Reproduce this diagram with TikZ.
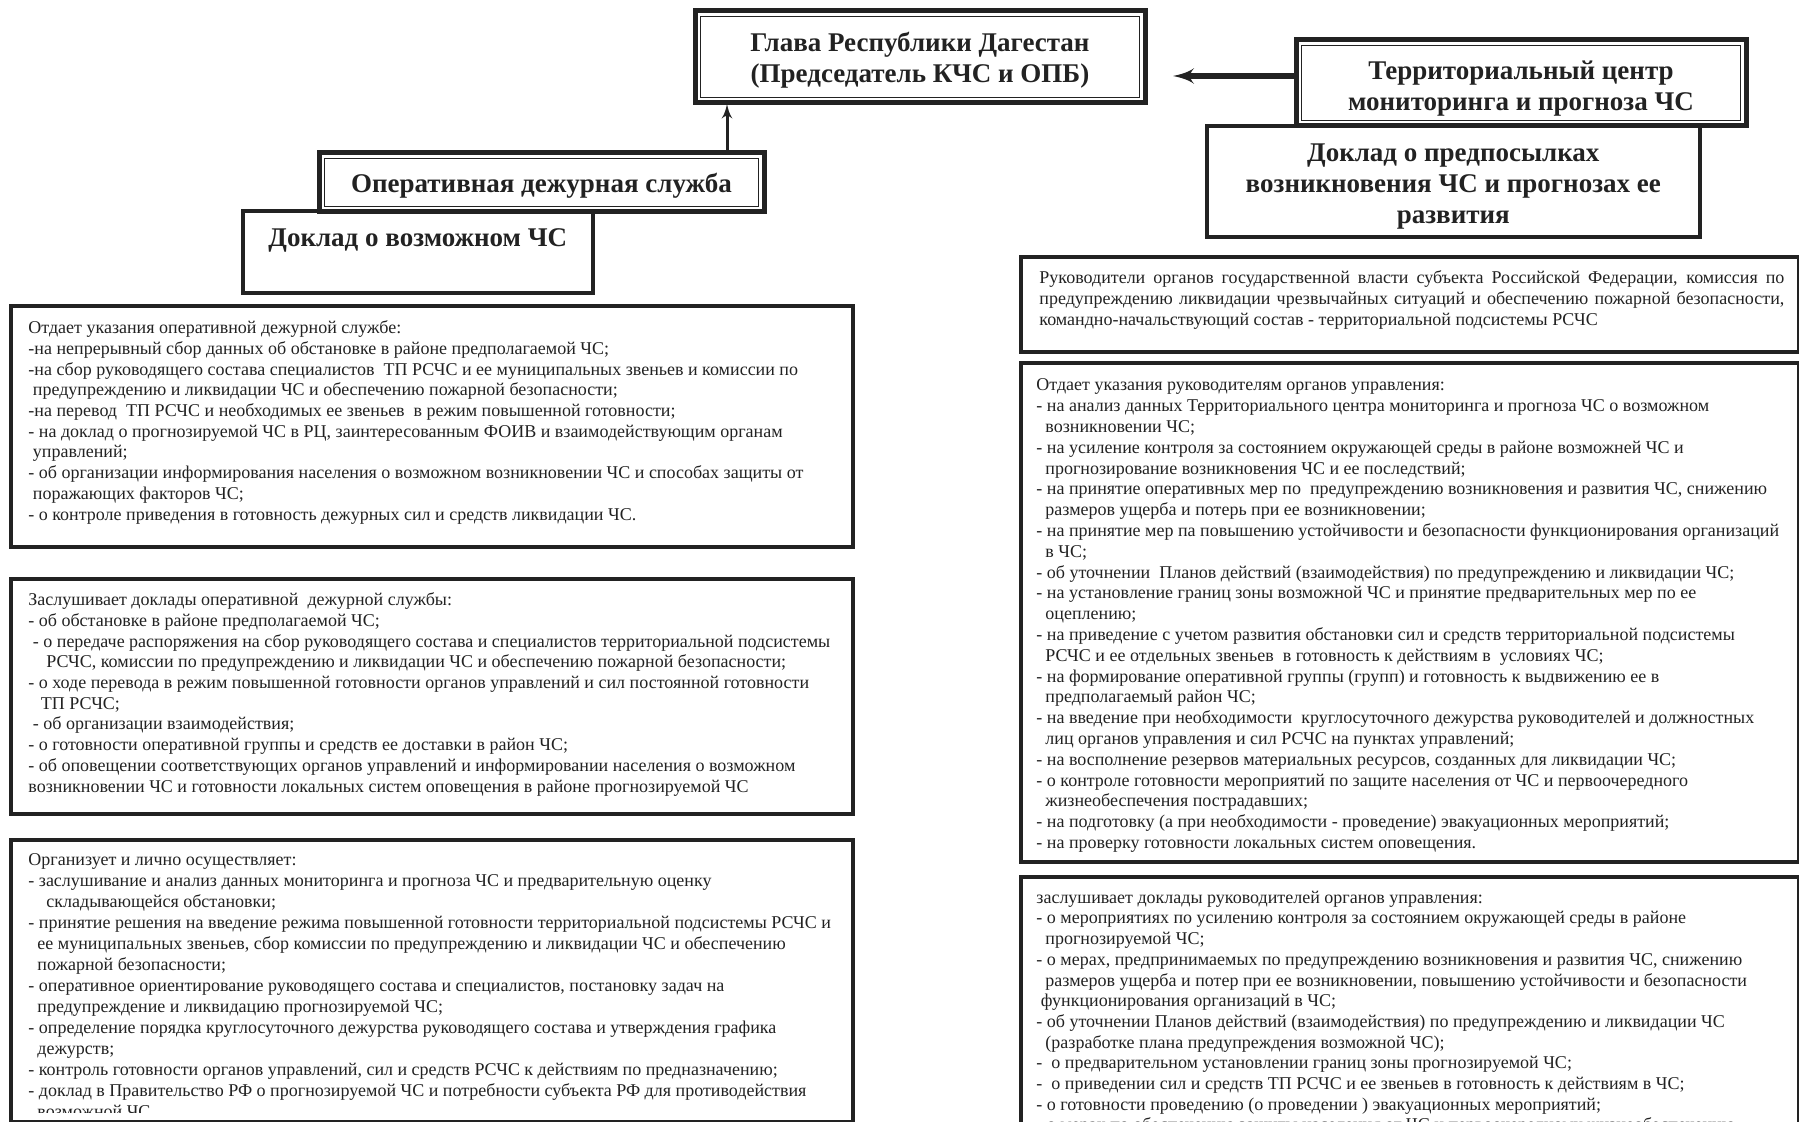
\documentclass[tikz,border=0pt]{standalone}
\usepackage{fontspec}
\setmainfont{Liberation Serif}
\usepackage{xcolor}
\usepackage{tikz}
\usetikzlibrary {positioning}
\usetikzlibrary{arrows}
\definecolor{ink}{HTML}{222222}
\tikzset{edge/.style = {->,> = latex',draw=ink}}
\newcommand{\ind}{\hspace*{0.5em}}

\begin{document}
\begin{tikzpicture}[x=0.5pt,y=-0.5pt,
    frame/.style={draw=ink,line width=1.8pt,fill=white,anchor=north west,inner sep=0},
    main node/.style={draw=ink,line width=2.5pt,fill=white,inner sep=0},
    inner line/.style={draw=ink,line width=0.6pt},
    title/.style={inner sep=0,align=center,text=ink,font=\bfseries\fontsize{13.5}{15.5}\selectfont},
    body/.style={anchor=north west,inner sep=0,align=left,text=ink,font=\fontsize{9}{10.35}\selectfont}]
\useasboundingbox (0,0) rectangle (1799,1122);
\clip (0,0) rectangle (1799,1122);
\fill[white] (0,0) rectangle (1799,1122);

% top row
\node[frame,minimum width=175pt,minimum height=41pt] (5) at (241,209) {};
\node[title,below=9.5pt of 5.north] (5t) {Доклад о возможном ЧС};
\node[main node,minimum width=222.5pt,minimum height=29.5pt] (4) at (541.5,182.5) {};
\draw[inner line] ([shift={(4pt,-4pt)}]4.north west) rectangle ([shift={(-4pt,4pt)}]4.south east);
\node[title] (4t) at ([yshift=-1.8pt]4.center) {Оперативная дежурная служба};

\node[main node,minimum width=225pt,minimum height=46pt] (1) at (920,57) {};
\draw[inner line] ([shift={(4pt,-4pt)}]1.north west) rectangle ([shift={(-4pt,4pt)}]1.south east);
\node[title] (1t) at ([yshift=-1.8pt]1.center) {Глава Республики Дагестан\\(Председатель КЧС и ОПБ)};

\node[frame,minimum width=246.5pt,minimum height=55.5pt] (3) at (1205,124) {};
\node[title,below=9.5pt of 3.north] (3t) {Доклад о предпосылках\\возникновения ЧС и прогнозах ее\\развития};
\node[main node,minimum width=225pt,minimum height=43pt] (2) at (1521,83) {};
\draw[inner line] ([shift={(4pt,-4pt)}]2.north west) rectangle ([shift={(-4pt,4pt)}]2.south east);
\node[title] (2t) at ([yshift=-3pt]2.center) {Территориальный центр\\мониторинга и прогноза ЧС};

\coordinate (tip) at (1173,76);
\coordinate (up) at (727,104);
\draw[edge,line width=2.6pt] (2.west |- tip) -- (tip);
\draw[edge,line width=1.5pt] (4.north -| up) -- (up);

% left column
\node[frame,minimum width=421pt,minimum height=120.5pt] (6) at (9,304) {};
\node[body] (6t) at (28,320.5) {Отдает указания оперативной дежурной службе:\\
-на непрерывный сбор данных об обстановке в районе предполагаемой ЧС;\\
-на сбор руководящего состава специалистов\ \ ТП РСЧС и ее муниципальных звеньев и комиссии по\\
\hspace*{0.25em}предупреждению и ликвидации ЧС и обеспечению пожарной безопасности;\\
-на перевод\ \ ТП РСЧС и необходимых ее звеньев\ \ в режим повышенной готовности;\\
- на доклад о прогнозируемой ЧС в РЦ, заинтересованным ФОИВ и взаимодействующим органам\\
\hspace*{0.25em}управлений;\\
- об организации информирования населения о возможном возникновении ЧС и способах защиты от\\
\hspace*{0.25em}поражающих факторов ЧС;\\
- о контроле приведения в готовность дежурных сил и средств ликвидации ЧС.};

\node[frame,minimum width=421pt,minimum height=117.5pt] (7) at (9,577) {};
\node[body] (7t) at (28,592.5) {Заслушивает доклады оперативной\ \ дежурной службы:\\
- об обстановке в районе предполагаемой ЧС;\\
\hspace*{0.25em}- о передаче распоряжения на сбор руководящего состава и специалистов территориальной подсистемы\\
\hspace*{1em}РСЧС, комиссии по предупреждению и ликвидации ЧС и обеспечению пожарной безопасности;\\
- о ходе перевода в режим повышенной готовности органов управлений и сил постоянной готовности\\
\hspace*{0.7em}ТП РСЧС;\\
\hspace*{0.25em}- об организации взаимодействия;\\
- о готовности оперативной группы и средств ее доставки в район ЧС;\\
- об оповещении соответствующих органов управлений и информировании населения о возможном\\
возникновении ЧС и готовности локальных систем оповещения в районе прогнозируемой ЧС};

\node[frame,minimum width=421pt,minimum height=141pt] (8) at (9,838) {};
\begin{scope}
\clip (12,841) rectangle (848,1112);
\node[body,font=\fontsize{9}{10.5}\selectfont] (8t) at (28,853) {Организует и лично осуществляет:\\
- заслушивание и анализ данных мониторинга и прогноза ЧС и предварительную оценку\\
\hspace*{1em}складывающейся обстановки;\\
- принятие решения на введение режима повышенной готовности территориальной подсистемы РСЧС и\\
\ind ее муниципальных звеньев, сбор комиссии по предупреждению и ликвидации ЧС и обеспечению\\
\ind пожарной безопасности;\\
- оперативное ориентирование руководящего состава и специалистов, постановку задач на\\
\ind предупреждение и ликвидацию прогнозируемой ЧС;\\
- определение порядка круглосуточного дежурства руководящего состава и утверждения графика\\
\ind дежурств;\\
- контроль готовности органов управлений, сил и средств РСЧС к действиям по предназначению;\\
- доклад в Правительство РФ о прогнозируемой ЧС и потребности субъекта РФ для противодействия\\
\ind возможной ЧС};
\end{scope}

% right column
\node[frame,minimum width=389pt,minimum height=47.5pt] (9) at (1019,255) {};
\node[body,text width=372.5pt,align=justify] (9t) at (1039,270.5) {Руководители органов государственной власти субъекта Российской Федерации, комиссия по\linebreak
предупреждению ликвидации чрезвычайных ситуаций и обеспечению пожарной безопасности,\linebreak
командно-начальствующий состав - территориальной подсистемы РСЧС};

\node[frame,minimum width=389pt,minimum height=249.5pt] (10) at (1019,361) {};
\node[body,font=\fontsize{9}{10.4}\selectfont] (10t) at (1036,378.5) {Отдает указания руководителям органов управления:\\
- на анализ данных Территориального центра мониторинга и прогноза ЧС о возможном\\
\ind возникновении ЧС;\\
- на усиление контроля за состоянием окружающей среды в районе возможней ЧС и\\
\ind прогнозирование возникновения ЧС и ее последствий;\\
- на принятие оперативных мер по\ \ предупреждению возникновения и развития ЧС, снижению\\
\ind размеров ущерба и потерь при ее возникновении;\\
- на принятие мер па повышению устойчивости и безопасности функционирования организаций\\
\ind в ЧС;\\
- об уточнении\ \ Планов действий (взаимодействия) по предупреждению и ликвидации ЧС;\\
- на установление границ зоны возможной ЧС и принятие предварительных мер по ее\\
\ind оцеплению;\\
- на приведение с учетом развития обстановки сил и средств территориальной подсистемы\\
\ind РСЧС и ее отдельных звеньев\ \ в готовность к действиям в\ \ условиях ЧС;\\
- на формирование оперативной группы (групп) и готовность к выдвижению ее в\\
\ind предполагаемый район ЧС;\\
- на введение при необходимости\ \ круглосуточного дежурства руководителей и должностных\\
\ind лиц органов управления и сил РСЧС на пунктах управлений;\\
- на восполнение резервов материальных ресурсов, созданных для ликвидации ЧС;\\
- о контроле готовности мероприятий по защите населения от ЧС и первоочередного\\
\ind жизнеобеспечения пострадавших;\\
- на подготовку (а при необходимости - проведение) эвакуационных мероприятий;\\
- на проверку готовности локальных систем оповещения.};

\node[frame,minimum width=389pt,minimum height=140pt] (11) at (1019,875) {};
\node[body] (11t) at (1036,890.5) {заслушивает доклады руководителей органов управления:\\
- о мероприятиях по усилению контроля за состоянием окружающей среды в районе\\
\ind прогнозируемой ЧС;\\
- о мерах, предпринимаемых по предупреждению возникновения и развития ЧС, снижению\\
\ind размеров ущерба и потер при ее возникновении, повышению устойчивости и безопасности\\
\hspace*{0.25em}функционирования организаций в ЧС;\\
- об уточнении Планов действий (взаимодействия) по предупреждению и ликвидации ЧС\\
\ind (разработке плана предупреждения возможной ЧС);\\
-\ \ о предварительном установлении границ зоны прогнозируемой ЧС;\\
-\ \ о приведении сил и средств ТП РСЧС и ее звеньев в готовность к действиям в ЧС;\\
- о готовности проведению (о проведении ) эвакуационных мероприятий;\\
- о мерах по обеспечению защиты населения от ЧС и первоочередному жизнеобеспечению};
\end{tikzpicture}
\end{document}
